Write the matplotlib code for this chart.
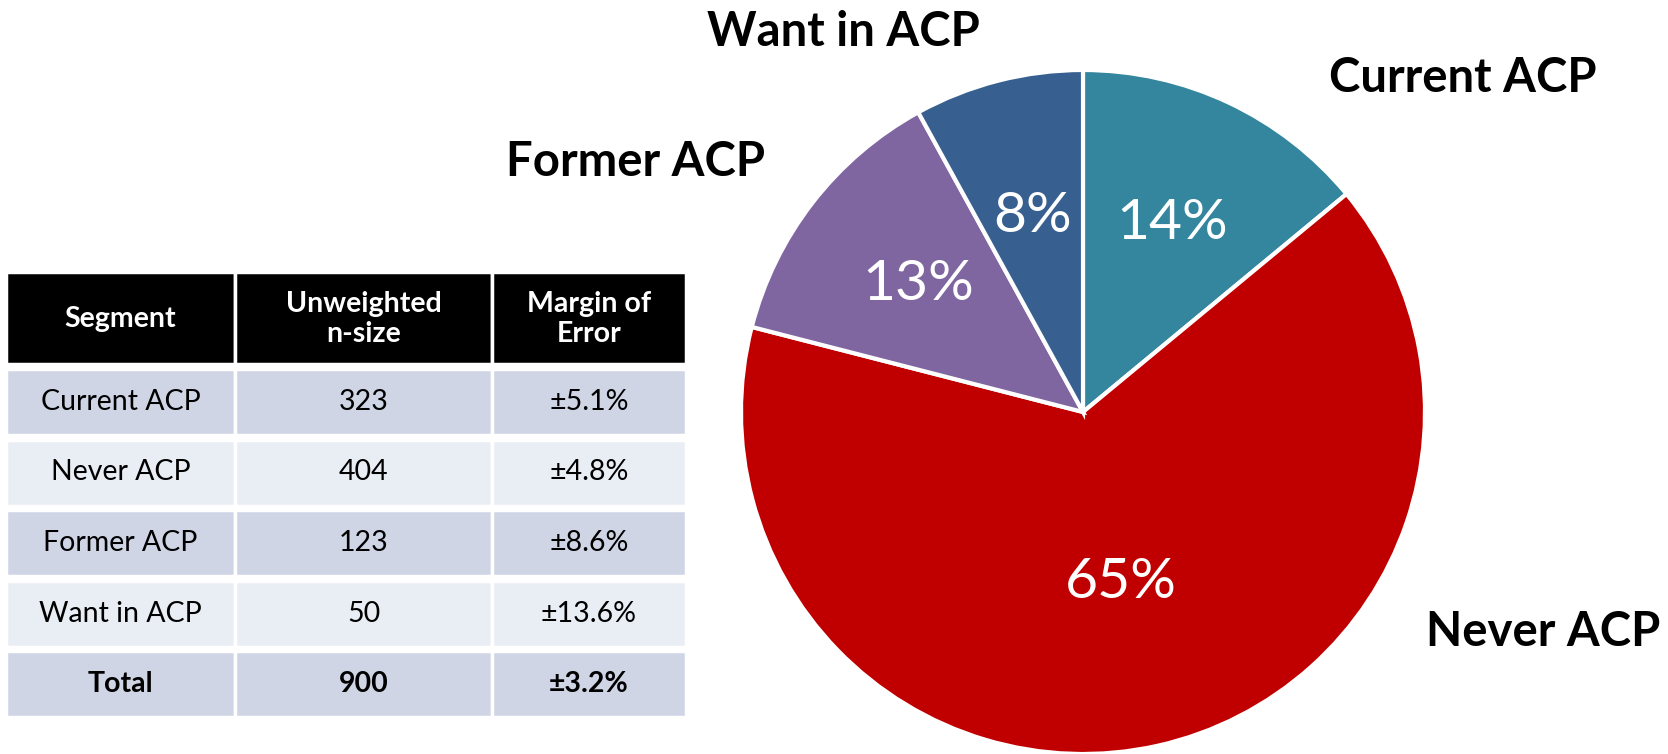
import matplotlib
matplotlib.use("Agg")
import matplotlib.pyplot as plt
from matplotlib.patches import Rectangle
import numpy as np

plt.rcParams['font.family'] = ['Lato', 'DejaVu Sans']

# ---- data ----
segments = ["Current ACP", "Never ACP", "Former ACP", "Want in ACP"]
shares = [14, 65, 13, 8]
colors = ["#33869E", "#C00000", "#8066A1", "#376091"]
pct_dist = [0.61, 0.51, 0.61, 0.59]

table_header = ["Segment", "Unweighted\nn-size", "Margin of\nError"]
table_segments = ["Current ACP", "Never ACP", "Former ACP", "Want in ACP", "Total"]
table_n = [323, 404, 123, 50, 900]
table_moe = ["±5.1%", "±4.8%", "±8.6%", "±13.6%", "±3.2%"]

W, H = 1668, 754
fig = plt.figure(figsize=(W / 100, H / 100), dpi=100)

# ---- table (pixel coordinates on a background axes) ----
bg = fig.add_axes([0, 0, 1, 1])
bg.set_xlim(0, W)
bg.set_ylim(H, 0)
bg.axis("off")

col_edges = [6, 235, 492, 686]
header_top, header_bot = 272, 364
row_top0, row_h, gap = 369, 66, 4.5
row_cols = ["#CFD5E5", "#E9EDF4"]

for c in range(3):
    x0, x1 = col_edges[c], col_edges[c + 1]
    bg.add_patch(Rectangle((x0, header_top), x1 - x0, header_bot - header_top,
                           facecolor="black", edgecolor="white", lw=2.5))
    bg.text((x0 + x1) / 2, (header_top + header_bot) / 2 + 1, table_header[c],
            ha="center", va="center", color="white", fontsize=20.5,
            fontweight="bold", linespacing=1.2)

for r in range(len(table_segments)):
    y0 = row_top0 + r * (row_h + gap)
    vals = [table_segments[r], str(table_n[r]), table_moe[r]]
    bold = table_segments[r] == "Total"
    for c in range(3):
        x0, x1 = col_edges[c], col_edges[c + 1]
        bg.add_patch(Rectangle((x0, y0), x1 - x0, row_h,
                               facecolor=row_cols[r % 2], edgecolor="white", lw=2.5))
        bg.text((x0 + x1) / 2, y0 + row_h / 2, vals[c], ha="center", va="center",
                color="black", fontsize=20.5,
                fontweight="bold" if bold else "normal")

# ---- pie ----
cx, cy, R = 1083, 412, 342
ax = fig.add_axes([(cx - R) / W, (H - cy - R) / H, 2 * R / W, 2 * R / H])
wedges, _ = ax.pie(shares, colors=colors, startangle=90, counterclock=False,
                   wedgeprops=dict(edgecolor="white", linewidth=3))
ax.set_xlim(-1, 1)
ax.set_ylim(-1, 1)
ax.set_aspect("equal")

cum = 0
for s, d in zip(shares, pct_dist):
    mid = np.deg2rad(90 - (cum + s / 2) * 3.6)
    cum += s
    ax.text(d * np.cos(mid), d * np.sin(mid), f"{s}%", ha="center", va="center",
            color="white", fontsize=41)

# outer labels (figure pixel coords)
label_pos = {"Current ACP": (1463, 78), "Never ACP": (1543, 632),
             "Former ACP": (636, 162), "Want in ACP": (843, 32)}
for name in segments:
    x, y = label_pos[name]
    bg.text(x, y, name, ha="center", va="center", fontsize=34,
            fontweight="bold", color="black")

fig.savefig("out.png", dpi=100)
